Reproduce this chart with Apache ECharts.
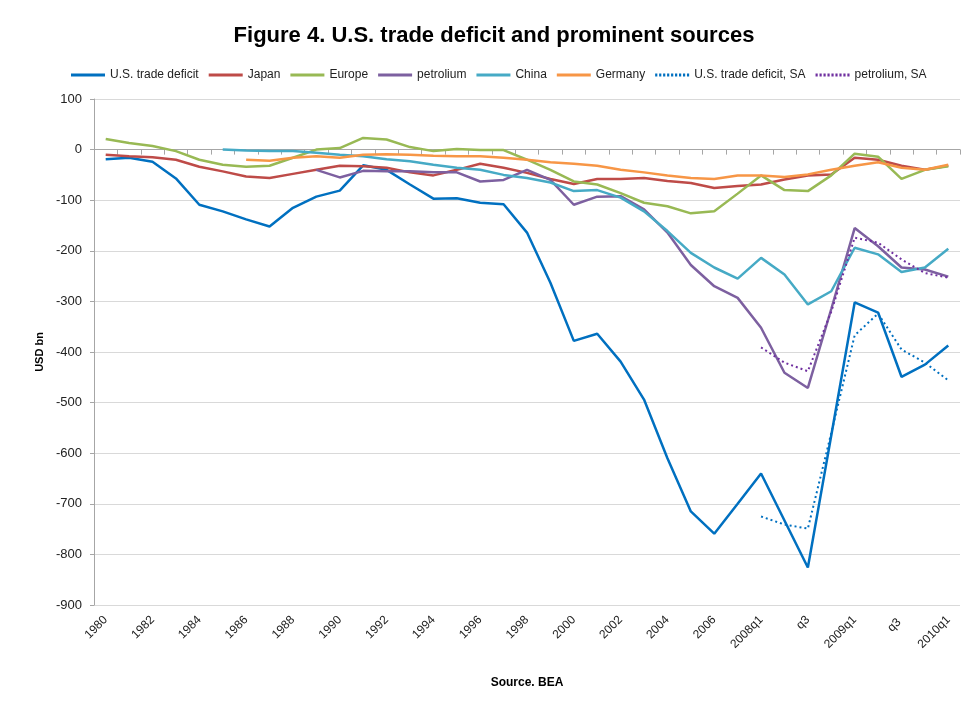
<!DOCTYPE html>
<html><head><meta charset="utf-8">
<script src="https://cdn.jsdelivr.net/npm/echarts@6/dist/echarts.min.js"></script>
<style>html,body{margin:0;padding:0;background:#fff}#c{width:964px;height:705px}</style>
</head><body><div id="c"></div>
<script>
const categories = ['1980','1981','1982','1983','1984','1985','1986','1987','1988','1989','1990','1991','1992','1993','1994','1995','1996','1997','1998','1999','2000','2001','2002','2003','2004','2005','2006','2007','2008q1','q2','q3','q4','2009q1','q2 ','q3 ','q4 ','2010q1'];
const usDeficit = [-19,-16,-24,-57,-109,-122,-138,-152,-115,-93,-81,-31,-40,-69,-97,-96,-105,-108,-164,-263,-378,-364,-419,-494,-610,-715,-759,-700,-640,-733,-826,-565,-302,-322,-449,-425,-387];
const japan = [-10,-13,-15,-20,-34,-43,-53,-56,-48,-40,-32,-33,-36,-45,-51,-40,-28,-36,-46,-58,-68,-58,-58,-56,-62,-66,-76,-72,-69,-59,-51,-49,-16,-20,-32,-40,-32];
const europe = [21,13,7,-3,-20,-30,-34,-32,-16,0,3,23,20,5,-3,1,-1,-1,-20,-40,-63,-69,-86,-105,-112,-126,-122,-87,-51,-80,-82,-51,-8,-14,-58,-40,-33];
const petrolium = [null,null,null,null,null,null,null,null,null,-40,-55,-42,-43,-43,-45,-45,-63,-60,-40,-60,-109,-93,-92,-118,-164,-228,-270,-293,-352,-441,-471,-315,-155,-191,-233,-237,-251];
const china = [null,null,null,null,null,0,-2,-3,-3,-6,-10,-13,-19,-23,-30,-36,-40,-50,-56,-65,-82,-80,-95,-122,-161,-204,-233,-255,-214,-247,-306,-280,-194,-207,-242,-233,-196];
const germany = [null,null,null,null,null,null,-20,-22,-16,-13,-16,-10,-9,-10,-12,-13,-13,-16,-20,-25,-28,-32,-40,-45,-51,-56,-58,-51,-51,-54,-49,-40,-32,-25,-36,-40,-30];
const usDeficitSA = [null,null,null,null,null,null,null,null,null,null,null,null,null,null,null,null,null,null,null,null,null,null,null,null,null,null,null,null,-725,-741,-749,-560,-367,-324,-395,-421,-456];
const petroliumSA = [null,null,null,null,null,null,null,null,null,null,null,null,null,null,null,null,null,null,null,null,null,null,null,null,null,null,null,null,-391,-421,-438,-320,-174,-184,-217,-244,-253];
const yTicks = {min:-900, max:100, interval:100};
const legendNames = ['U.S. trade deficit','Japan','Europe','petrolium','China','Germany','U.S. trade deficit, SA','petrolium, SA'];
const dottedNames = ['U.S. trade deficit, SA','petrolium, SA'];

const FONT = "'Liberation Sans', 'DejaVu Sans', sans-serif";
const SOLID_ICON = 'path://M0,0h34v3h-34z';
let dots = '';
for (let i = 0; i < 9; i++) dots += 'M' + (i * 4) + ',0h2.2v3h-2.2z';
const DOT_ICON = 'path://' + dots;

function line(name, data, color, dotted) {
  return {
    name, type:'line', data, xAxisIndex:0, yAxisIndex:0,
    symbol:'none', connectNulls:false, smooth:false,
    lineStyle:{color, width: dotted ? 2 : 2.5, type: dotted ? [2,3] : 'solid'},
    itemStyle:{color},
    emphasis:{disabled:true}
  };
}
const chart = echarts.init(document.getElementById('c'), null, {renderer:'canvas'});
chart.setOption({
  animation:false,
  backgroundColor:'#fff',
  title:{
    text:'Figure 4. U.S. trade deficit and prominent sources',
    left:489, textAlign:'center', top:20,
    textStyle:{fontFamily:FONT, fontWeight:'bold', fontSize:22, color:'#000'}
  },
  legend:{
    top:64, left:66, itemWidth:34, itemHeight:3, itemGap:10,
    textStyle:{fontFamily:FONT, fontSize:12, color:'#222'},
    data:legendNames.map(n => ({name:n, icon: dottedNames.includes(n) ? DOT_ICON : SOLID_ICON}))
  },
  grid:{left:94, right:4, top:99, bottom:100, containLabel:false},
  xAxis:[
    {type:'category', data:categories, boundaryGap:true,
     axisLine:{show:true, onZero:true, lineStyle:{color:'#a6a6a6', width:1}},
     axisTick:{show:true, interval:0, length:5, lineStyle:{color:'#a6a6a6'}},
     axisLabel:{show:false}, splitLine:{show:false}},
    {type:'category', data:categories, boundaryGap:true, position:'bottom',
     axisLine:{show:false, onZero:false}, axisTick:{show:false},
     axisLabel:{show:true, interval:1, rotate:45, margin:13,
       fontFamily:FONT, fontSize:12, color:'#222'},
     name:'Source. BEA', nameLocation:'middle', nameGap:72,
     nameTextStyle:{fontFamily:FONT, fontWeight:'bold', fontSize:12, color:'#000'}}
  ],
  yAxis:{
    type:'value', min:yTicks.min, max:yTicks.max, interval:yTicks.interval,
    axisLine:{show:true, lineStyle:{color:'#a6a6a6'}},
    axisTick:{show:true, length:4, lineStyle:{color:'#a6a6a6'}},
    axisLabel:{fontFamily:FONT, fontSize:13, color:'#222', margin:12},
    splitLine:{show:true, lineStyle:{color:'#d9d9d9', width:1.2}},
    name:'USD bn', nameLocation:'middle', nameGap:49, nameRotate:90,
    nameTextStyle:{fontFamily:FONT, fontWeight:'bold', fontSize:11, color:'#000'}
  },
  series:[
    line('U.S. trade deficit', usDeficit, '#0070C0'),
    line('Japan', japan, '#BE4B48'),
    line('Europe', europe, '#98B954'),
    line('petrolium', petrolium, '#7D60A0'),
    line('China', china, '#46AAC5'),
    line('Germany', germany, '#F79646'),
    line('U.S. trade deficit, SA', usDeficitSA, '#0070C0', true),
    line('petrolium, SA', petroliumSA, '#7030A0', true)
  ]
});
</script></body></html>
